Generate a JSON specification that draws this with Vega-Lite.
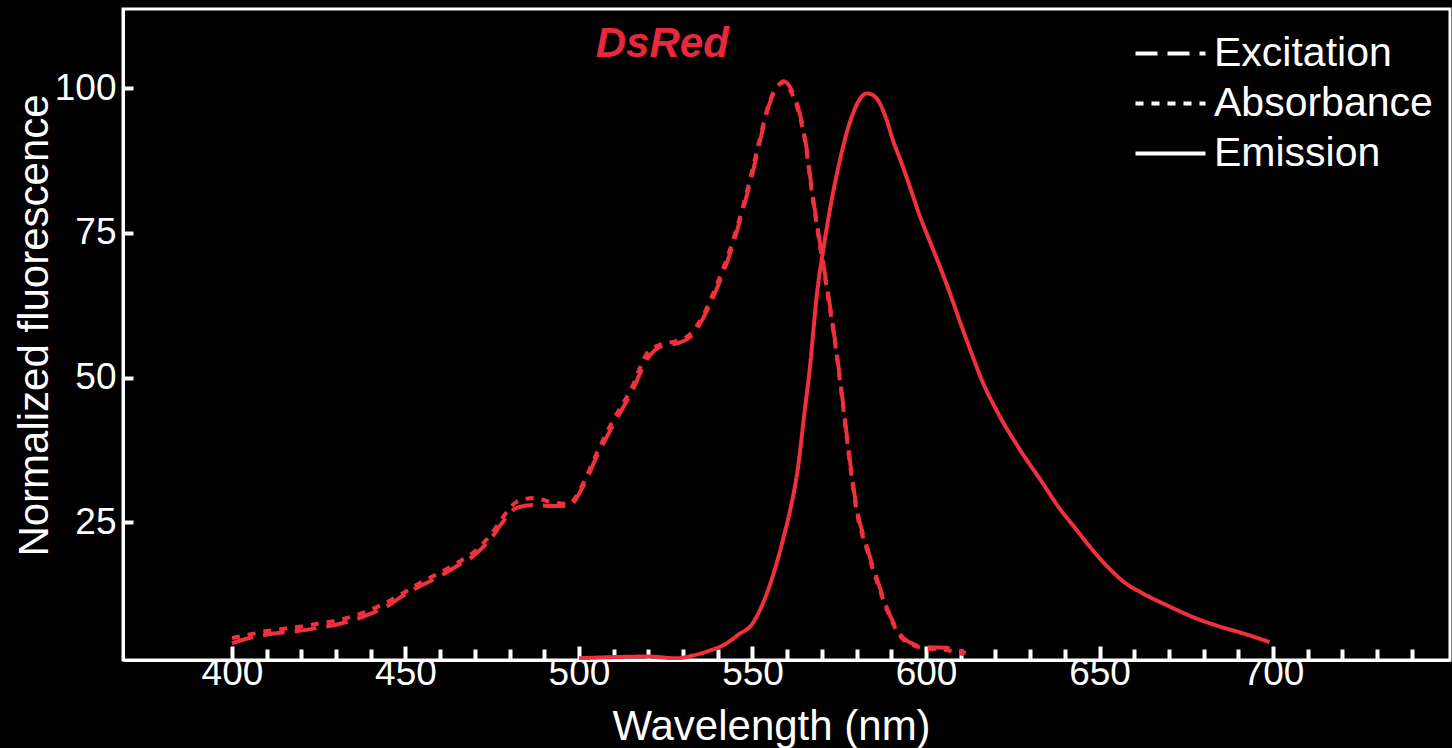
{
  "$schema": "https://vega.github.io/schema/vega-lite/v6.json",
  "width": 1327,
  "height": 651,
  "autosize": "none",
  "padding": {"left": 123, "top": 9, "right": 2, "bottom": 88},
  "background": "black",
  "config": {
    "view": {"stroke": "white", "strokeWidth": 3},
    "font": "Liberation Sans"
  },
  "resolve": {"axis": {"x": "independent", "y": "independent"}},
  "datasets": {
    "spectra": [
      {"nm": 400, "v": 4.1, "s": "Excitation"}, {"nm": 405, "v": 5.0, "s": "Excitation"}, {"nm": 410, "v": 5.6, "s": "Excitation"}, {"nm": 415, "v": 6.0, "s": "Excitation"}, {"nm": 420, "v": 6.3, "s": "Excitation"}, {"nm": 425, "v": 6.8, "s": "Excitation"}, {"nm": 430, "v": 7.3, "s": "Excitation"}, {"nm": 435, "v": 8.1, "s": "Excitation"}, {"nm": 440, "v": 9.2, "s": "Excitation"}, {"nm": 445, "v": 10.6, "s": "Excitation"}, {"nm": 450, "v": 12.6, "s": "Excitation"}, {"nm": 455, "v": 14.2, "s": "Excitation"}, {"nm": 460, "v": 15.7, "s": "Excitation"}, {"nm": 465, "v": 17.5, "s": "Excitation"}, {"nm": 470, "v": 19.4, "s": "Excitation"}, {"nm": 475, "v": 22.5, "s": "Excitation"}, {"nm": 478, "v": 25.0, "s": "Excitation"}, {"nm": 482, "v": 27.5, "s": "Excitation"}, {"nm": 487, "v": 28.0, "s": "Excitation"}, {"nm": 492, "v": 27.8, "s": "Excitation"}, {"nm": 497, "v": 27.8, "s": "Excitation"}, {"nm": 501, "v": 31.0, "s": "Excitation"}, {"nm": 505, "v": 36.2, "s": "Excitation"}, {"nm": 510, "v": 42.0, "s": "Excitation"}, {"nm": 515, "v": 47.3, "s": "Excitation"}, {"nm": 520, "v": 53.5, "s": "Excitation"}, {"nm": 524, "v": 55.5, "s": "Excitation"}, {"nm": 528, "v": 55.9, "s": "Excitation"}, {"nm": 532, "v": 57.0, "s": "Excitation"}, {"nm": 536, "v": 60.5, "s": "Excitation"}, {"nm": 540, "v": 65.8, "s": "Excitation"}, {"nm": 544, "v": 72.3, "s": "Excitation"}, {"nm": 547, "v": 78.5, "s": "Excitation"}, {"nm": 550, "v": 85.3, "s": "Excitation"}, {"nm": 552, "v": 90.5, "s": "Excitation"}, {"nm": 555, "v": 97.5, "s": "Excitation"}, {"nm": 557, "v": 100.0, "s": "Excitation"}, {"nm": 559, "v": 101.2, "s": "Excitation"}, {"nm": 561, "v": 100.0, "s": "Excitation"}, {"nm": 563, "v": 97.0, "s": "Excitation"}, {"nm": 565.5, "v": 90.0, "s": "Excitation"}, {"nm": 567, "v": 83.0, "s": "Excitation"}, {"nm": 569, "v": 75.0, "s": "Excitation"}, {"nm": 571.5, "v": 65.6, "s": "Excitation"}, {"nm": 574, "v": 55.5, "s": "Excitation"}, {"nm": 576, "v": 46.0, "s": "Excitation"}, {"nm": 578, "v": 36.0, "s": "Excitation"}, {"nm": 580, "v": 27.6, "s": "Excitation"}, {"nm": 583, "v": 20.7, "s": "Excitation"}, {"nm": 586, "v": 15.0, "s": "Excitation"}, {"nm": 589, "v": 9.8, "s": "Excitation"}, {"nm": 593, "v": 5.3, "s": "Excitation"}, {"nm": 597, "v": 3.8, "s": "Excitation"}, {"nm": 600, "v": 3.4, "s": "Excitation"}, {"nm": 606, "v": 3.3, "s": "Excitation"}, {"nm": 611.5, "v": 2.4, "s": "Excitation"},
      {"nm": 400, "v": 5.0, "s": "Absorbance"}, {"nm": 405, "v": 5.6, "s": "Absorbance"}, {"nm": 410, "v": 6.2, "s": "Absorbance"}, {"nm": 415, "v": 6.6, "s": "Absorbance"}, {"nm": 420, "v": 7.0, "s": "Absorbance"}, {"nm": 425, "v": 7.5, "s": "Absorbance"}, {"nm": 430, "v": 8.0, "s": "Absorbance"}, {"nm": 435, "v": 8.8, "s": "Absorbance"}, {"nm": 440, "v": 9.9, "s": "Absorbance"}, {"nm": 445, "v": 11.3, "s": "Absorbance"}, {"nm": 450, "v": 13.0, "s": "Absorbance"}, {"nm": 455, "v": 14.8, "s": "Absorbance"}, {"nm": 460, "v": 16.3, "s": "Absorbance"}, {"nm": 465, "v": 18.0, "s": "Absorbance"}, {"nm": 470, "v": 20.0, "s": "Absorbance"}, {"nm": 475, "v": 23.2, "s": "Absorbance"}, {"nm": 478, "v": 25.8, "s": "Absorbance"}, {"nm": 482, "v": 28.5, "s": "Absorbance"}, {"nm": 487, "v": 29.2, "s": "Absorbance"}, {"nm": 492, "v": 28.5, "s": "Absorbance"}, {"nm": 497, "v": 28.2, "s": "Absorbance"}, {"nm": 501, "v": 31.5, "s": "Absorbance"}, {"nm": 505, "v": 36.8, "s": "Absorbance"}, {"nm": 510, "v": 42.8, "s": "Absorbance"}, {"nm": 515, "v": 48.0, "s": "Absorbance"}, {"nm": 520, "v": 54.5, "s": "Absorbance"}, {"nm": 524, "v": 55.8, "s": "Absorbance"}, {"nm": 528, "v": 56.3, "s": "Absorbance"}, {"nm": 532, "v": 57.5, "s": "Absorbance"}, {"nm": 536, "v": 61.0, "s": "Absorbance"}, {"nm": 540, "v": 66.5, "s": "Absorbance"}, {"nm": 544, "v": 73.0, "s": "Absorbance"}, {"nm": 547, "v": 79.0, "s": "Absorbance"}, {"nm": 550, "v": 86.0, "s": "Absorbance"}, {"nm": 552, "v": 91.0, "s": "Absorbance"}, {"nm": 555, "v": 97.8, "s": "Absorbance"}, {"nm": 557, "v": 100.3, "s": "Absorbance"}, {"nm": 559, "v": 101.0, "s": "Absorbance"}, {"nm": 561, "v": 99.5, "s": "Absorbance"}, {"nm": 563, "v": 96.5, "s": "Absorbance"}, {"nm": 565.5, "v": 89.5, "s": "Absorbance"}, {"nm": 567, "v": 82.5, "s": "Absorbance"}, {"nm": 569, "v": 74.5, "s": "Absorbance"}, {"nm": 571.5, "v": 65.0, "s": "Absorbance"}, {"nm": 574, "v": 55.0, "s": "Absorbance"}, {"nm": 576, "v": 45.5, "s": "Absorbance"}, {"nm": 578, "v": 35.5, "s": "Absorbance"}, {"nm": 580, "v": 27.0, "s": "Absorbance"}, {"nm": 583, "v": 20.2, "s": "Absorbance"}, {"nm": 586, "v": 14.5, "s": "Absorbance"}, {"nm": 589, "v": 9.5, "s": "Absorbance"}, {"nm": 593, "v": 5.0, "s": "Absorbance"}, {"nm": 597, "v": 3.6, "s": "Absorbance"}, {"nm": 600, "v": 3.2, "s": "Absorbance"}, {"nm": 605, "v": 3.0, "s": "Absorbance"}, {"nm": 611, "v": 2.2, "s": "Absorbance"},
      {"nm": 500, "v": 1.5, "s": "Emission"}, {"nm": 510, "v": 1.7, "s": "Emission"}, {"nm": 520, "v": 1.8, "s": "Emission"}, {"nm": 528, "v": 1.5, "s": "Emission"}, {"nm": 533, "v": 2.0, "s": "Emission"}, {"nm": 538, "v": 2.9, "s": "Emission"}, {"nm": 542, "v": 3.9, "s": "Emission"}, {"nm": 546, "v": 5.6, "s": "Emission"}, {"nm": 550, "v": 7.5, "s": "Emission"}, {"nm": 553, "v": 11.0, "s": "Emission"}, {"nm": 556, "v": 16.0, "s": "Emission"}, {"nm": 559, "v": 22.5, "s": "Emission"}, {"nm": 561, "v": 27.5, "s": "Emission"}, {"nm": 563, "v": 34.0, "s": "Emission"}, {"nm": 565, "v": 44.0, "s": "Emission"}, {"nm": 566.5, "v": 51.5, "s": "Emission"}, {"nm": 568.6, "v": 64.6, "s": "Emission"}, {"nm": 570.5, "v": 72.5, "s": "Emission"}, {"nm": 572.3, "v": 79.0, "s": "Emission"}, {"nm": 575.2, "v": 87.6, "s": "Emission"}, {"nm": 577, "v": 92.0, "s": "Emission"}, {"nm": 579, "v": 95.7, "s": "Emission"}, {"nm": 581, "v": 98.2, "s": "Emission"}, {"nm": 583, "v": 99.1, "s": "Emission"}, {"nm": 585, "v": 98.7, "s": "Emission"}, {"nm": 586.7, "v": 97.4, "s": "Emission"}, {"nm": 588.5, "v": 94.8, "s": "Emission"}, {"nm": 590.5, "v": 91.0, "s": "Emission"}, {"nm": 593, "v": 87.0, "s": "Emission"}, {"nm": 595.4, "v": 82.9, "s": "Emission"}, {"nm": 598, "v": 78.3, "s": "Emission"}, {"nm": 601, "v": 73.7, "s": "Emission"}, {"nm": 604, "v": 69.2, "s": "Emission"}, {"nm": 607, "v": 64.4, "s": "Emission"}, {"nm": 610, "v": 59.3, "s": "Emission"}, {"nm": 613, "v": 54.4, "s": "Emission"}, {"nm": 616, "v": 49.7, "s": "Emission"}, {"nm": 621, "v": 43.6, "s": "Emission"}, {"nm": 627, "v": 37.6, "s": "Emission"}, {"nm": 633.7, "v": 31.7, "s": "Emission"}, {"nm": 638, "v": 27.8, "s": "Emission"}, {"nm": 643.5, "v": 23.6, "s": "Emission"}, {"nm": 648, "v": 20.2, "s": "Emission"}, {"nm": 653, "v": 16.9, "s": "Emission"}, {"nm": 657, "v": 14.7, "s": "Emission"}, {"nm": 662.5, "v": 12.7, "s": "Emission"}, {"nm": 670, "v": 10.5, "s": "Emission"}, {"nm": 677, "v": 8.6, "s": "Emission"}, {"nm": 684, "v": 7.1, "s": "Emission"}, {"nm": 691.4, "v": 5.8, "s": "Emission"}, {"nm": 699, "v": 4.3, "s": "Emission"}
    ]
  },
  "layer": [
    {
      "data": {"name": "spectra"},
      "mark": {"type": "line", "color": "#f0303c", "strokeWidth": 4, "interpolate": "monotone", "clip": true},
      "encoding": {
        "x": {
          "field": "nm",
          "type": "quantitative",
          "scale": {"domain": [368.6, 751], "nice": false, "zero": false},
          "axis": {
            "title": "Wavelength (nm)",
            "titleColor": "white",
            "titleFont": "Liberation Sans",
            "titleFontSize": 42,
            "titleFontWeight": "normal",
            "titleX": 648,
            "titleY": 79,
            "titleBaseline": "alphabetic",
            "values": [400, 410, 420, 430, 440, 450, 460, 470, 480, 490, 500, 510, 520, 530, 540, 550, 560, 570, 580, 590, 600, 610, 620, 630, 640, 650, 660, 670, 680, 690, 700, 710, 720, 730, 740],
            "labelExpr": "(datum.value % 50 === 0 && datum.value <= 700) ? datum.label : ''",
            "labelColor": "white",
            "labelFont": "Liberation Sans",
            "labelFontSize": 37,
            "labelPadding": 9,
            "labelFlush": false,
            "labelOverlap": false,
            "tickColor": "white",
            "tickWidth": 4,
            "tickSize": {"condition": {"test": "datum.value % 50 === 0", "value": -14}, "value": -11},
            "domainColor": "white",
            "domainWidth": 3,
            "grid": false
          }
        },
        "y": {
          "field": "v",
          "type": "quantitative",
          "scale": {"domain": [1.2, 113.7], "nice": false, "zero": false},
          "axis": {
            "title": "Normalized fluorescence",
            "titleColor": "white",
            "titleFont": "Liberation Sans",
            "titleFontSize": 42,
            "titleFontWeight": "normal",
            "titleX": -76,
            "titleY": 316,
            "titleAngle": -90,
            "titleBaseline": "alphabetic",
            "titleAlign": "center",
            "values": [25, 50, 75, 100],
            "labelColor": "white",
            "labelFont": "Liberation Sans",
            "labelFontSize": 37,
            "labelPadding": 17,
            "tickColor": "white",
            "tickWidth": 4,
            "tickSize": -10,
            "domainColor": "white",
            "domainWidth": 3,
            "grid": false
          }
        },
        "strokeDash": {
          "field": "s",
          "type": "nominal",
          "scale": {"domain": ["Excitation", "Absorbance", "Emission"], "range": [[22, 10], [8, 8], [1, 0]]},
          "legend": {
            "title": null,
            "orient": "none",
            "legendX": 1027,
            "legendY": 24,
            "padding": 0,
            "symbolType": "M-2,0H2",
            "symbolSize": 1225,
            "symbolStrokeWidth": 4,
            "symbolStrokeColor": "white",
            "symbolFillColor": "transparent",
            "labelColor": "white",
            "labelFont": "Liberation Sans",
            "labelFontSize": 41,
            "labelOffset": 23,
            "labelLimit": 500,
            "rowPadding": 8,
            "encode": {"symbols": {"update": {"stroke": {"value": "white"}, "strokeWidth": {"value": 4}, "fill": {"value": "transparent"}}}}
          }
        }
      }
    },
    {
      "data": {"values": [{"label": "DsRed"}]},
      "mark": {"type": "text", "color": "#e8283c", "font": "Liberation Sans", "fontSize": 42, "fontWeight": "bold", "fontStyle": "italic", "align": "center", "baseline": "alphabetic"},
      "encoding": {
        "x": {"datum": 524, "type": "quantitative", "axis": null},
        "y": {"datum": 105.4, "type": "quantitative", "axis": null},
        "text": {"field": "label", "type": "nominal"}
      }
    }
  ]
}
